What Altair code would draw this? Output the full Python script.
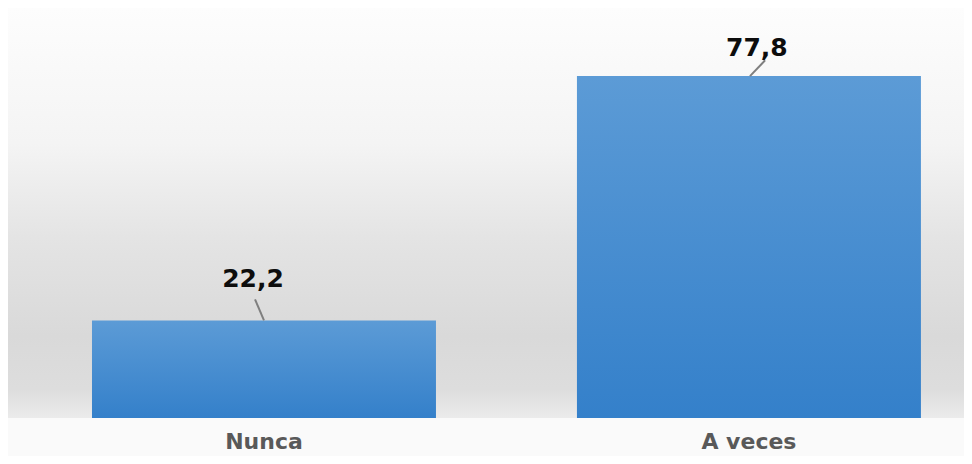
import altair as alt
import pandas as pd

categories = ["Nunca", "A veces"]
values = [22.2, 77.8]
labels = ["22,2", "77,8"]

df = pd.DataFrame({"cat": categories, "val": values, "lab": labels})

W, H = 956, 410
FONT = "DejaVu Sans"

xscale = alt.Scale(domain=categories, paddingInner=0.2907, paddingOuter=0.131, align=0.661)
yscale = alt.Scale(domain=[0, 93.3], nice=False, zero=True)

base = alt.Chart(df)

bg = base.mark_rect(
    color=alt.Gradient(
        gradient="linear",
        stops=[
            alt.GradientStop(color="#fdfdfd", offset=0),
            alt.GradientStop(color="#f4f4f4", offset=0.33),
            alt.GradientStop(color="#e4e4e4", offset=0.56),
            alt.GradientStop(color="#d9d9d9", offset=0.8),
            alt.GradientStop(color="#dddddd", offset=0.93),
            alt.GradientStop(color="#ebebeb", offset=1),
        ],
        x1=0, x2=0, y1=0, y2=1,
    )
).encode(
    x=alt.value(0), x2=alt.value(W), y=alt.value(0), y2=alt.value(H)
).transform_filter("datum.cat == 'Nunca'")

bars = base.mark_bar(
    color=alt.Gradient(
        gradient="linear",
        stops=[
            alt.GradientStop(color="#5c9bd6", offset=0),
            alt.GradientStop(color="#3480ca", offset=1),
        ],
        x1=0, x2=0, y1=0, y2=1,
    )
).encode(
    x=alt.X("cat:N", scale=xscale, sort=categories,
            axis=alt.Axis(title=None, domain=False, ticks=False, labelAngle=0,
                          labelFont=FONT, labelFontSize=22, labelFontWeight="bold",
                          labelColor="#595959", labelPadding=30,
                          labelBaseline="alphabetic")),
    y=alt.Y("val:Q", scale=yscale, axis=None),
)

layers = [bg, bars]

# leader lines and value labels, per category (style offsets)
specs = {
    "Nunca": dict(bp_top=0.474, bp_bot=0.5, dy_units=4.8, lab_bp=0.468, lab_dy=-33),
    "A veces": dict(bp_top=0.547, bp_bot=0.503, dy_units=3.6, lab_bp=0.523, lab_dy=-20),
}
for c, s in specs.items():
    sub = base.transform_filter(f"datum.cat == '{c}'")
    rule = sub.transform_calculate(top=f"datum.val + {s['dy_units']}").mark_rule(
        color="#7f7f7f", strokeWidth=2
    ).encode(
        x=alt.X("cat:N", scale=xscale, sort=categories, bandPosition=s["bp_top"]),
        x2=alt.X2("cat:N", bandPosition=s["bp_bot"]),
        y=alt.Y("top:Q", scale=yscale),
        y2=alt.Y2("val:Q"),
    )
    text = sub.mark_text(
        font=FONT, fontSize=25, fontWeight="bold", color="#0d0d0d",
        baseline="alphabetic", align="center", dy=s["lab_dy"]
    ).encode(
        x=alt.X("cat:N", scale=xscale, sort=categories, bandPosition=s["lab_bp"]),
        y=alt.Y("val:Q", scale=yscale),
        text="lab:N",
    )
    layers += [rule, text]

chart = alt.layer(*layers).properties(
    width=W, height=H,
    autosize=alt.AutoSizeParams(type="none"),
    padding={"top": 0, "left": 0, "right": 0, "bottom": 38},
    background="#fafafa",
).configure_view(stroke=None)

chart.save("out.html", embed_options={"renderer": "svg", "actions": False})
